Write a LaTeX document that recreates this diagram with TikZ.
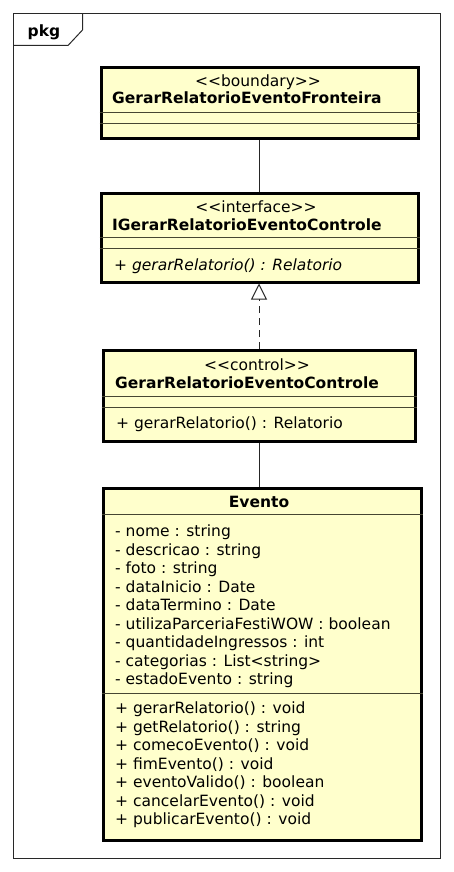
\documentclass[tikz,border=0pt]{standalone}
\usepackage{fontspec}
\setmainfont{DejaVu Sans}[Ligatures=TeXOff]
\usetikzlibrary{arrows.meta, positioning}
\definecolor{ClassFill}{RGB}{255,255,204}
\definecolor{FrameColor}{RGB}{40,40,40}
\definecolor{SepColor}{RGB}{70,70,50}
\newcommand{\umlsize}{\fontsize{15.5}{18.5}\selectfont}
\tikzset{
  classbox/.style={draw=black, line width=3pt, fill=ClassFill, inner sep=0pt, anchor=north west},
  sepline/.style={SepColor, line width=1pt},
  stereo/.style={anchor=base, inner sep=0pt, font=\umlsize},
  classname/.style={anchor=base west, inner sep=0pt, font=\umlsize\bfseries},
  member/.style={anchor=base west, inner sep=0pt, font=\umlsize},
  assoc/.style={line width=1pt, black!85},
  realize/.style={line width=1pt, black!85, dash pattern=on 7pt off 5pt, -{Triangle[open, width=16pt, length=16pt]}}
}
\begin{document}
\begin{tikzpicture}[x=1pt, y=-1pt]
  \useasboundingbox (0,0) rectangle (453,872);

  % Package frame
  \draw[FrameColor, line width=1pt] (13.5,14) rectangle (440.5,858);
  \draw[FrameColor, line width=1pt] (82.5,14) -- (82.5,30) -- (68,45.5) -- (13.5,45.5);
  \node[classname] (pkg) at (27.5,36.5) {pkg};

  % Boundary class
  \node[classbox, minimum width=317pt, minimum height=70pt] (bnd) at (99.5,66.5) {};
  \node[stereo] (bndst) at (258,87) {<<boundary>>};
  \node[classname] (bndname) at (112,104) {GerarRelatorioEventoFronteira};
  \draw[sepline] (bnd.west |- 0,113) -- (bnd.east |- 0,113);
  \draw[sepline] (bnd.west |- 0,124) -- (bnd.east |- 0,124);

  % Interface
  \node[classbox, minimum width=317pt, minimum height=89pt] (ifc) at (99.5,191.5) {};
  \node[stereo] (ifcst) at (256,212) {<<interface>>};
  \node[classname] (ifcname) at (112,230) {IGerarRelatorioEventoControle};
  \draw[sepline] (ifc.west |- 0,237) -- (ifc.east |- 0,237);
  \draw[sepline] (ifc.west |- 0,248) -- (ifc.east |- 0,248);
  \node[member] (ifcop) at (114,270) {\itshape + gerarRelatorio() : Relatorio};

  % Control class
  \node[classbox, minimum width=312pt, minimum height=90.5pt] (ctl) at (101.5,349) {};
  \node[stereo] (ctlst) at (257,370) {<<control>>};
  \node[classname] (ctlname) at (115,388.5) {GerarRelatorioEventoControle};
  \draw[sepline] (ctl.west |- 0,396.5) -- (ctl.east |- 0,396.5);
  \draw[sepline] (ctl.west |- 0,407) -- (ctl.east |- 0,407);
  \node[member] (ctlop) at (116,428.5) {+ gerarRelatorio() : Relatorio};

  % Entity Evento
  \node[classbox, minimum width=318.5pt, minimum height=352pt] (evt) at (101.5,486.5) {};
  \node[classname, anchor=base] (evtname) at (259,507) {Evento};
  \draw[sepline] (evt.west |- 0,514) -- (evt.east |- 0,514);
  \foreach \txt [count=\i from 0] in {- nome : string, - descricao : string, - foto : string,
      - dataInicio : Date, - dataTermino : Date, - utilizaParceriaFestiWOW : boolean,
      - quantidadeIngressos : int, - categorias : List<string>, - estadoEvento : string}
    \node[member] (attr\i) at (115,536.5+\i*18.5) {\txt};
  \draw[sepline] (evt.west |- 0,693) -- (evt.east |- 0,693);
  \foreach \txt [count=\i from 0] in {+ gerarRelatorio() : void, + getRelatorio() : string,
      + comecoEvento() : void, + fimEvento() : void, + eventoValido() : boolean,
      + cancelarEvento() : void, + publicarEvento() : void}
    \node[member] (op\i) at (115,713.5+\i*18.5) {\txt};

  % Connectors
  \draw[assoc] (bnd.south) -- (ifc.north);
  \draw[realize] (ctl.north) -- (ctl.north |- ifc.south);
  \draw[assoc] (ctl.south) -- (ctl.south |- evt.north);
\end{tikzpicture}
\end{document}
